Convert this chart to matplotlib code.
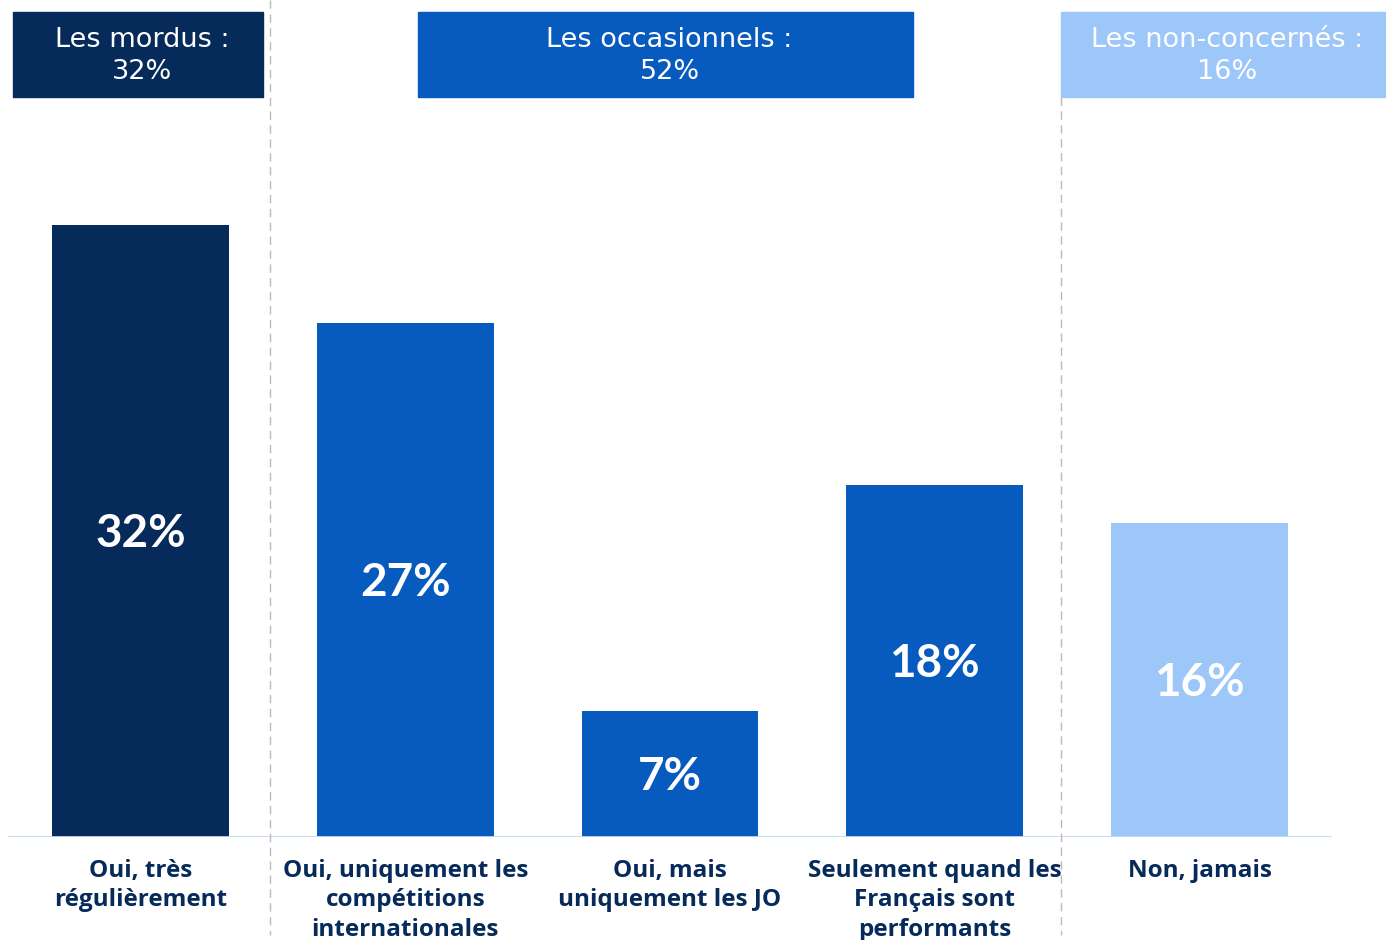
import matplotlib
matplotlib.use("Agg")
import matplotlib.pyplot as plt
from matplotlib.patches import Rectangle

# data
categories = ["Oui, très\nrégulièrement",
              "Oui, uniquement les\ncompétitions\ninternationales",
              "Oui, mais\nuniquement les JO",
              "Seulement quand les\nFrançais sont\nperformants",
              "Non, jamais"]
values = [32, 26.9, 6.6, 18.4, 16.4]
value_labels = ["32%", "27%", "7%", "18%", "16%"]
groups = ["Les mordus :\n32%", "Les occasionnels :\n52%", "Les non-concernés :\n16%"]

navy = "#062A5A"
mid = "#085BBE"
light = "#9DC6F9"
bar_colors = [navy, mid, mid, mid, light]
group_colors = [navy, mid, light]

W, H = 1386, 940
fig = plt.figure(figsize=(W / 100, H / 100), dpi=100)

ax = fig.add_axes([8 / W, 103 / H, 1324 / W, 837 / H])
ax.set_xlim(-0.5, 4.5)
ax.set_ylim(0, 837 / 19.125)
ax.axis("off")

x = range(len(values))
ax.bar(x, values, width=0.668, color=bar_colors, zorder=2)
ax.axhline(0, color="#BFD9F7", lw=2, zorder=3)

for i, (v, lab) in enumerate(zip(values, value_labels)):
    ax.annotate(lab, (i, v / 2), xytext=(0, -2), textcoords="offset points",
                ha="center", va="center", color="white",
                fontsize=33, fontweight="bold", family="Lato", zorder=4)
    ax.annotate(categories[i], (i, 0), xytext=(0, -15.5), textcoords="offset points",
                ha="center", va="top", color=navy, fontsize=17.5,
                fontweight="bold", family="Open Sans", linespacing=1.31,
                annotation_clip=False)

# dashed separators
def fx(px):
    return px / W

def fy(py):
    return 1 - py / H

fig.add_artist(plt.Line2D([fx(270), fx(270)], [fy(0), fy(935)], color="#BBBBBB",
                          lw=1, ls=(0, (6, 4)), transform=fig.transFigure))
fig.add_artist(plt.Line2D([fx(1061), fx(1061)], [fy(97), fy(935)], color="#BBBBBB",
                          lw=1, ls=(0, (6, 4)), transform=fig.transFigure))

# group header boxes
boxes = [(13, 263), (418, 913), (1061, 1386)]
for (x0, x1), txt, c in zip(boxes, groups, group_colors):
    fig.add_artist(Rectangle((fx(x0), fy(97)), fx(x1) - fx(x0), fy(12) - fy(97),
                             color=c, transform=fig.transFigure, zorder=5))
    fig.text(fx((x0 + x1) / 2 + 4), fy(56), txt, ha="center", va="center",
             color="white", fontsize=19.5, family="DejaVu Sans", linespacing=1.3,
             zorder=6)

fig.savefig("out.png", dpi=100)
